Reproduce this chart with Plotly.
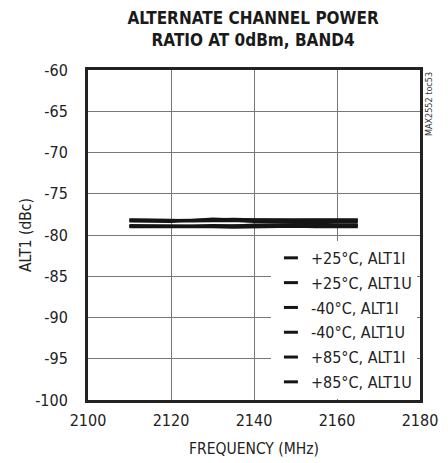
import plotly.graph_objects as go

freq = [2110, 2115, 2120, 2125, 2130, 2135, 2140, 2145, 2150, 2155, 2160, 2165]
p25_I = [-78.2, -78.25, -78.25, -78.2, -78.15, -78.1, -78.15, -78.15, -78.1, -78.1, -78.15, -78.15]
p25_U = [-78.95, -78.95, -78.9, -78.9, -78.85, -78.9, -78.9, -78.95, -78.9, -78.9, -78.85, -78.85]
m40_I = [-78.3, -78.3, -78.35, -78.25, -78.05, -78.15, -78.2, -78.25, -78.25, -78.2, -78.25, -78.25]
m40_U = [-79.0, -79.0, -79.0, -78.95, -79.0, -79.05, -79.0, -78.95, -78.95, -79.0, -79.0, -79.0]
p85_I = [-78.15, -78.15, -78.2, -78.3, -78.25, -78.25, -78.35, -78.4, -78.35, -78.4, -78.4, -78.4]
p85_U = [-78.85, -78.85, -78.9, -78.95, -78.95, -78.9, -78.8, -78.75, -78.7, -78.7, -78.75, -78.75]

names = ["+25°C, ALT1I", "+25°C, ALT1U", "-40°C, ALT1I", "-40°C, ALT1U", "+85°C, ALT1I", "+85°C, ALT1U"]
series = [p25_I, p25_U, m40_I, m40_U, p85_I, p85_U]

x_ticks = [2100, 2120, 2140, 2160, 2180]
y_ticks = [-60, -65, -70, -75, -80, -85, -90, -95, -100]
y_labels = [str(v) for v in y_ticks]

FONT = "DejaVu Sans Condensed, Liberation Sans Narrow, Arial Narrow, sans-serif"
INK = "#151515"

fig = go.Figure()
for n, s in zip(names, series):
    fig.add_trace(go.Scatter(x=freq, y=s, mode="lines", line=dict(color=INK, width=3),
                             showlegend=False))
for i, n in enumerate(names):
    fig.add_trace(go.Scatter(x=[None], y=[None], mode="markers", name=n, legendgroup=f"g{i}",
                             marker=dict(symbol="line-ew-open", size=10, color=INK,
                                         line=dict(color=INK, width=3))))

fig.update_layout(
    width=440, height=455,
    margin=dict(l=80, r=28, t=62, b=63),
    paper_bgcolor="white", plot_bgcolor="white",
    font=dict(family=FONT, size=16, color="#222"),
    title=dict(text="<b>ALTERNATE CHANNEL POWER<br>RATIO AT 0dBm, BAND4</b>",
               x=0.557, xanchor="center", y=0.964, yanchor="middle",
               font=dict(family=FONT, size=17, color="#1a1a1a")),
    legend=dict(x=0.551, xanchor="left", y=0.482, yanchor="top", bgcolor="white",
                font=dict(family=FONT, size=16, color="#222"), tracegroupgap=1,
                itemwidth=30),
    xaxis=dict(range=[2100, 2180], tickvals=x_ticks, showgrid=True, gridcolor="#777",
               gridwidth=1, showline=True, linecolor="#222", linewidth=3, mirror=True,
               ticks="", zeroline=False, ticklabelstandoff=4, automargin=False,
               tickfont=dict(size=16),
               title=dict(text="FREQUENCY (MHz)", font=dict(family=FONT, size=15.5), standoff=14)),
    yaxis=dict(range=[-100, -60], tickvals=y_ticks, ticktext=y_labels, showgrid=True,
               gridcolor="#777", gridwidth=1, showline=True, linecolor="#222", linewidth=3,
               mirror=True, ticks="", zeroline=False, ticklabelstandoff=14, automargin=False,
               tickfont=dict(size=16),
               title=dict(text="ALT1 (dBc)", font=dict(family=FONT, size=15.5), standoff=0)),
    annotations=[dict(text="MAX2552 toc53", textangle=-90, xref="paper", yref="paper",
                      x=1.0, y=1.0, xanchor="left", yanchor="top", showarrow=False, xshift=2,
                      font=dict(family=FONT, size=9, color="#333"))],
)

fig.write_html("out.html")
